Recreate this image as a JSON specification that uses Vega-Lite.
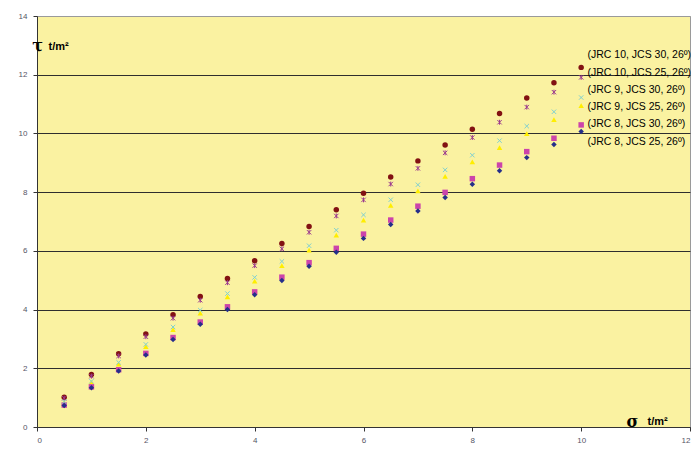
{
  "$schema": "https://vega.github.io/schema/vega-lite/v6.json",
  "width": 653,
  "height": 411,
  "autosize": {"type": "none"},
  "padding": {"left": 37, "top": 16, "right": 6, "bottom": 30},
  "background": "white",
  "config": {
    "view": {"fill": "#FAF2A1", "stroke": "#9a9a9a", "strokeWidth": 1},
    "point": {"size": 30}
  },
  "data": {
    "values": [
      {"series": "(JRC 10, JCS 30, 26º)", "sigma": 0.5, "tau": 1.016},
      {"series": "(JRC 10, JCS 30, 26º)", "sigma": 1.0, "tau": 1.788},
      {"series": "(JRC 10, JCS 30, 26º)", "sigma": 1.5, "tau": 2.497},
      {"series": "(JRC 10, JCS 30, 26º)", "sigma": 2.0, "tau": 3.172},
      {"series": "(JRC 10, JCS 30, 26º)", "sigma": 2.5, "tau": 3.820},
      {"series": "(JRC 10, JCS 30, 26º)", "sigma": 3.0, "tau": 4.448},
      {"series": "(JRC 10, JCS 30, 26º)", "sigma": 3.5, "tau": 5.061},
      {"series": "(JRC 10, JCS 30, 26º)", "sigma": 4.0, "tau": 5.661},
      {"series": "(JRC 10, JCS 30, 26º)", "sigma": 4.5, "tau": 6.249},
      {"series": "(JRC 10, JCS 30, 26º)", "sigma": 5.0, "tau": 6.828},
      {"series": "(JRC 10, JCS 30, 26º)", "sigma": 5.5, "tau": 7.399},
      {"series": "(JRC 10, JCS 30, 26º)", "sigma": 6.0, "tau": 7.959},
      {"series": "(JRC 10, JCS 30, 26º)", "sigma": 6.5, "tau": 8.516},
      {"series": "(JRC 10, JCS 30, 26º)", "sigma": 7.0, "tau": 9.065},
      {"series": "(JRC 10, JCS 30, 26º)", "sigma": 7.5, "tau": 9.607},
      {"series": "(JRC 10, JCS 30, 26º)", "sigma": 8.0, "tau": 10.146},
      {"series": "(JRC 10, JCS 30, 26º)", "sigma": 8.5, "tau": 10.679},
      {"series": "(JRC 10, JCS 30, 26º)", "sigma": 9.0, "tau": 11.207},
      {"series": "(JRC 10, JCS 30, 26º)", "sigma": 9.5, "tau": 11.729},
      {"series": "(JRC 10, JCS 30, 26º)", "sigma": 10.0, "tau": 12.250},
      {"series": "(JRC 10, JCS 25, 26º)", "sigma": 0.5, "tau": 0.981},
      {"series": "(JRC 10, JCS 25, 26º)", "sigma": 1.0, "tau": 1.731},
      {"series": "(JRC 10, JCS 25, 26º)", "sigma": 1.5, "tau": 2.421},
      {"series": "(JRC 10, JCS 25, 26º)", "sigma": 2.0, "tau": 3.076},
      {"series": "(JRC 10, JCS 25, 26º)", "sigma": 2.5, "tau": 3.706},
      {"series": "(JRC 10, JCS 25, 26º)", "sigma": 3.0, "tau": 4.318},
      {"series": "(JRC 10, JCS 25, 26º)", "sigma": 3.5, "tau": 4.915},
      {"series": "(JRC 10, JCS 25, 26º)", "sigma": 4.0, "tau": 5.497},
      {"series": "(JRC 10, JCS 25, 26º)", "sigma": 4.5, "tau": 6.071},
      {"series": "(JRC 10, JCS 25, 26º)", "sigma": 5.0, "tau": 6.633},
      {"series": "(JRC 10, JCS 25, 26º)", "sigma": 5.5, "tau": 7.189},
      {"series": "(JRC 10, JCS 25, 26º)", "sigma": 6.0, "tau": 7.736},
      {"series": "(JRC 10, JCS 25, 26º)", "sigma": 6.5, "tau": 8.276},
      {"series": "(JRC 10, JCS 25, 26º)", "sigma": 7.0, "tau": 8.811},
      {"series": "(JRC 10, JCS 25, 26º)", "sigma": 7.5, "tau": 9.339},
      {"series": "(JRC 10, JCS 25, 26º)", "sigma": 8.0, "tau": 9.861},
      {"series": "(JRC 10, JCS 25, 26º)", "sigma": 8.5, "tau": 10.381},
      {"series": "(JRC 10, JCS 25, 26º)", "sigma": 9.0, "tau": 10.896},
      {"series": "(JRC 10, JCS 25, 26º)", "sigma": 9.5, "tau": 11.405},
      {"series": "(JRC 10, JCS 25, 26º)", "sigma": 10.0, "tau": 11.909},
      {"series": "(JRC 9, JCS 30, 26º)", "sigma": 0.5, "tau": 0.866},
      {"series": "(JRC 9, JCS 30, 26º)", "sigma": 1.0, "tau": 1.558},
      {"series": "(JRC 9, JCS 30, 26º)", "sigma": 1.5, "tau": 2.200},
      {"series": "(JRC 9, JCS 30, 26º)", "sigma": 2.0, "tau": 2.813},
      {"series": "(JRC 9, JCS 30, 26º)", "sigma": 2.5, "tau": 3.406},
      {"series": "(JRC 9, JCS 30, 26º)", "sigma": 3.0, "tau": 3.981},
      {"series": "(JRC 9, JCS 30, 26º)", "sigma": 3.5, "tau": 4.545},
      {"series": "(JRC 9, JCS 30, 26º)", "sigma": 4.0, "tau": 5.097},
      {"series": "(JRC 9, JCS 30, 26º)", "sigma": 4.5, "tau": 5.641},
      {"series": "(JRC 9, JCS 30, 26º)", "sigma": 5.0, "tau": 6.175},
      {"series": "(JRC 9, JCS 30, 26º)", "sigma": 5.5, "tau": 6.704},
      {"series": "(JRC 9, JCS 30, 26º)", "sigma": 6.0, "tau": 7.226},
      {"series": "(JRC 9, JCS 30, 26º)", "sigma": 6.5, "tau": 7.741},
      {"series": "(JRC 9, JCS 30, 26º)", "sigma": 7.0, "tau": 8.252},
      {"series": "(JRC 9, JCS 30, 26º)", "sigma": 7.5, "tau": 8.758},
      {"series": "(JRC 9, JCS 30, 26º)", "sigma": 8.0, "tau": 9.258},
      {"series": "(JRC 9, JCS 30, 26º)", "sigma": 8.5, "tau": 9.754},
      {"series": "(JRC 9, JCS 30, 26º)", "sigma": 9.0, "tau": 10.248},
      {"series": "(JRC 9, JCS 30, 26º)", "sigma": 9.5, "tau": 10.738},
      {"series": "(JRC 9, JCS 30, 26º)", "sigma": 10.0, "tau": 11.223},
      {"series": "(JRC 9, JCS 25, 26º)", "sigma": 0.5, "tau": 0.842},
      {"series": "(JRC 9, JCS 25, 26º)", "sigma": 1.0, "tau": 1.516},
      {"series": "(JRC 9, JCS 25, 26º)", "sigma": 1.5, "tau": 2.142},
      {"series": "(JRC 9, JCS 25, 26º)", "sigma": 2.0, "tau": 2.740},
      {"series": "(JRC 9, JCS 25, 26º)", "sigma": 2.5, "tau": 3.318},
      {"series": "(JRC 9, JCS 25, 26º)", "sigma": 3.0, "tau": 3.880},
      {"series": "(JRC 9, JCS 25, 26º)", "sigma": 3.5, "tau": 4.430},
      {"series": "(JRC 9, JCS 25, 26º)", "sigma": 4.0, "tau": 4.969},
      {"series": "(JRC 9, JCS 25, 26º)", "sigma": 4.5, "tau": 5.499},
      {"series": "(JRC 9, JCS 25, 26º)", "sigma": 5.0, "tau": 6.021},
      {"series": "(JRC 9, JCS 25, 26º)", "sigma": 5.5, "tau": 6.536},
      {"series": "(JRC 9, JCS 25, 26º)", "sigma": 6.0, "tau": 7.046},
      {"series": "(JRC 9, JCS 25, 26º)", "sigma": 6.5, "tau": 7.549},
      {"series": "(JRC 9, JCS 25, 26º)", "sigma": 7.0, "tau": 8.046},
      {"series": "(JRC 9, JCS 25, 26º)", "sigma": 7.5, "tau": 8.540},
      {"series": "(JRC 9, JCS 25, 26º)", "sigma": 8.0, "tau": 9.029},
      {"series": "(JRC 9, JCS 25, 26º)", "sigma": 8.5, "tau": 9.513},
      {"series": "(JRC 9, JCS 25, 26º)", "sigma": 9.0, "tau": 9.993},
      {"series": "(JRC 9, JCS 25, 26º)", "sigma": 9.5, "tau": 10.472},
      {"series": "(JRC 9, JCS 25, 26º)", "sigma": 10.0, "tau": 10.946},
      {"series": "(JRC 8, JCS 30, 26º)", "sigma": 0.5, "tau": 0.748},
      {"series": "(JRC 8, JCS 30, 26º)", "sigma": 1.0, "tau": 1.367},
      {"series": "(JRC 8, JCS 30, 26º)", "sigma": 1.5, "tau": 1.949},
      {"series": "(JRC 8, JCS 30, 26º)", "sigma": 2.0, "tau": 2.507},
      {"series": "(JRC 8, JCS 30, 26º)", "sigma": 2.5, "tau": 3.048},
      {"series": "(JRC 8, JCS 30, 26º)", "sigma": 3.0, "tau": 3.575},
      {"series": "(JRC 8, JCS 30, 26º)", "sigma": 3.5, "tau": 4.094},
      {"series": "(JRC 8, JCS 30, 26º)", "sigma": 4.0, "tau": 4.602},
      {"series": "(JRC 8, JCS 30, 26º)", "sigma": 4.5, "tau": 5.104},
      {"series": "(JRC 8, JCS 30, 26º)", "sigma": 5.0, "tau": 5.598},
      {"series": "(JRC 8, JCS 30, 26º)", "sigma": 5.5, "tau": 6.086},
      {"series": "(JRC 8, JCS 30, 26º)", "sigma": 6.0, "tau": 6.570},
      {"series": "(JRC 8, JCS 30, 26º)", "sigma": 6.5, "tau": 7.049},
      {"series": "(JRC 8, JCS 30, 26º)", "sigma": 7.0, "tau": 7.522},
      {"series": "(JRC 8, JCS 30, 26º)", "sigma": 7.5, "tau": 7.992},
      {"series": "(JRC 8, JCS 30, 26º)", "sigma": 8.0, "tau": 8.459},
      {"series": "(JRC 8, JCS 30, 26º)", "sigma": 8.5, "tau": 8.922},
      {"series": "(JRC 8, JCS 30, 26º)", "sigma": 9.0, "tau": 9.380},
      {"series": "(JRC 8, JCS 30, 26º)", "sigma": 9.5, "tau": 9.836},
      {"series": "(JRC 8, JCS 30, 26º)", "sigma": 10.0, "tau": 10.290},
      {"series": "(JRC 8, JCS 25, 26º)", "sigma": 0.5, "tau": 0.730},
      {"series": "(JRC 8, JCS 25, 26º)", "sigma": 1.0, "tau": 1.336},
      {"series": "(JRC 8, JCS 25, 26º)", "sigma": 1.5, "tau": 1.905},
      {"series": "(JRC 8, JCS 25, 26º)", "sigma": 2.0, "tau": 2.450},
      {"series": "(JRC 8, JCS 25, 26º)", "sigma": 2.5, "tau": 2.979},
      {"series": "(JRC 8, JCS 25, 26º)", "sigma": 3.0, "tau": 3.497},
      {"series": "(JRC 8, JCS 25, 26º)", "sigma": 3.5, "tau": 4.003},
      {"series": "(JRC 8, JCS 25, 26º)", "sigma": 4.0, "tau": 4.501},
      {"series": "(JRC 8, JCS 25, 26º)", "sigma": 4.5, "tau": 4.990},
      {"series": "(JRC 8, JCS 25, 26º)", "sigma": 5.0, "tau": 5.475},
      {"series": "(JRC 8, JCS 25, 26º)", "sigma": 5.5, "tau": 5.953},
      {"series": "(JRC 8, JCS 25, 26º)", "sigma": 6.0, "tau": 6.425},
      {"series": "(JRC 8, JCS 25, 26º)", "sigma": 6.5, "tau": 6.894},
      {"series": "(JRC 8, JCS 25, 26º)", "sigma": 7.0, "tau": 7.358},
      {"series": "(JRC 8, JCS 25, 26º)", "sigma": 7.5, "tau": 7.817},
      {"series": "(JRC 8, JCS 25, 26º)", "sigma": 8.0, "tau": 8.272},
      {"series": "(JRC 8, JCS 25, 26º)", "sigma": 8.5, "tau": 8.726},
      {"series": "(JRC 8, JCS 25, 26º)", "sigma": 9.0, "tau": 9.176},
      {"series": "(JRC 8, JCS 25, 26º)", "sigma": 9.5, "tau": 9.622},
      {"series": "(JRC 8, JCS 25, 26º)", "sigma": 10.0, "tau": 10.065}
    ]
  },
  "resolve": {
    "scale": {"x": "independent", "y": "independent"},
    "axis": {"x": "independent", "y": "independent"}
  },
  "layer": [
    {
      "transform": [{"filter": {"field": "series", "oneOf": ["(JRC 10, JCS 30, 26º)", "(JRC 9, JCS 25, 26º)", "(JRC 8, JCS 30, 26º)", "(JRC 8, JCS 25, 26º)"]}}],
      "mark": {"type": "point", "filled": true, "opacity": 1},
      "encoding": {
        "x": {
          "field": "sigma", "type": "quantitative",
          "scale": {"domain": [0, 12], "nice": false, "zero": true},
          "axis": {
            "orient": "bottom", "values": [0, 2, 4, 6, 8, 10, 12], "grid": false,
            "domainColor": "#333333", "tickColor": "#333333", "tickSize": 4,
            "labelFont": "Liberation Sans", "labelFontSize": 8, "labelColor": "#555566", "labelPadding": 5,
            "title": "σ", "titleFont": "DejaVu Serif", "titleFontSize": 16, "titleFontWeight": "bold", "titleColor": "#000000",
            "titleAngle": 0, "titleX": 595, "titleY": -6, "titleAlign": "center", "titleBaseline": "middle"
          }
        },
        "y": {
          "field": "tau", "type": "quantitative",
          "scale": {"domain": [0, 14], "nice": false, "zero": true},
          "axis": {
            "orient": "left", "values": [0, 2, 4, 6, 8, 10, 12, 14], "grid": true,
            "gridColor": {"condition": {"test": "datum.value >= 14", "value": "#9a9a9a"}, "value": "#2e2e2e"},
            "gridWidth": 1,
            "domainColor": "#333333", "tickColor": "#333333", "tickSize": 4,
            "labelFont": "Liberation Sans", "labelFontSize": 8, "labelColor": "#555566", "labelPadding": 6,
            "title": "τ", "titleFont": "DejaVu Serif", "titleFontSize": 16, "titleFontWeight": "bold", "titleColor": "#000000",
            "titleAngle": 0, "titleX": 0, "titleY": 29, "titleAlign": "center", "titleBaseline": "middle"
          }
        },
        "color": {
          "field": "series", "type": "nominal",
          "scale": {
            "domain": ["(JRC 10, JCS 30, 26º)", "(JRC 10, JCS 25, 26º)", "(JRC 9, JCS 30, 26º)", "(JRC 9, JCS 25, 26º)", "(JRC 8, JCS 30, 26º)", "(JRC 8, JCS 25, 26º)"],
            "range": ["#821212", "#9B3A8E", "#7FD0D0", "#FFEE00", "#CC44AA", "#252F8A"]
          },
          "legend": {
            "orient": "none", "legendX": 540, "legendY": 34, "title": null,
            "symbolOpacity": 0, "symbolSize": 1, "symbolStrokeWidth": 0,
            "labelFont": "Liberation Sans", "labelFontSize": 10.5, "labelColor": "#000000",
            "labelOffset": 0, "rowPadding": 6.3, "padding": 0, "labelLimit": 200
          }
        },
        "shape": {
          "field": "series", "type": "nominal",
          "scale": {
            "domain": ["(JRC 10, JCS 30, 26º)", "(JRC 10, JCS 25, 26º)", "(JRC 9, JCS 30, 26º)", "(JRC 9, JCS 25, 26º)", "(JRC 8, JCS 30, 26º)", "(JRC 8, JCS 25, 26º)"],
            "range": ["circle", "M-0.8,-0.8L0.8,0.8M0.8,-0.8L-0.8,0.8M0,-0.9L0,0.9", "M-0.8,-0.8L0.8,0.8M0.8,-0.8L-0.8,0.8", "triangle-up", "square", "diamond"]
          },
          "legend": null
        }
      }
    },
    {
      "transform": [{"filter": {"field": "series", "oneOf": ["(JRC 10, JCS 25, 26º)", "(JRC 9, JCS 30, 26º)"]}}],
      "mark": {"type": "point", "filled": false, "opacity": 1, "strokeWidth": 1},
      "encoding": {
        "x": {
          "field": "sigma", "type": "quantitative",
          "scale": {"domain": [0, 12], "nice": false, "zero": true},
          "axis": {
            "orient": "top", "labels": false, "ticks": false, "domain": false, "grid": false,
            "title": "t/m²", "titleFont": "Liberation Sans", "titleFontSize": 11, "titleFontWeight": "bold", "titleColor": "#000000",
            "titleAngle": 0, "titleX": 610, "titleY": 405, "titleAlign": "left", "titleBaseline": "middle"
          }
        },
        "y": {
          "field": "tau", "type": "quantitative",
          "scale": {"domain": [0, 14], "nice": false, "zero": true},
          "axis": {
            "orient": "right", "labels": false, "ticks": false, "domain": false, "grid": false,
            "title": "t/m²", "titleFont": "Liberation Sans", "titleFontSize": 11, "titleFontWeight": "bold", "titleColor": "#000000",
            "titleAngle": 0, "titleX": -642, "titleY": 30, "titleAlign": "left", "titleBaseline": "middle"
          }
        },
        "color": {
          "field": "series", "type": "nominal",
          "scale": {
            "domain": ["(JRC 10, JCS 30, 26º)", "(JRC 10, JCS 25, 26º)", "(JRC 9, JCS 30, 26º)", "(JRC 9, JCS 25, 26º)", "(JRC 8, JCS 30, 26º)", "(JRC 8, JCS 25, 26º)"],
            "range": ["#821212", "#9B3A8E", "#7FD0D0", "#FFEE00", "#CC44AA", "#252F8A"]
          },
          "legend": {
            "orient": "none", "legendX": 540, "legendY": 34, "title": null,
            "symbolOpacity": 0, "symbolSize": 1, "symbolStrokeWidth": 0,
            "labelFont": "Liberation Sans", "labelFontSize": 10.5, "labelColor": "#000000",
            "labelOffset": 0, "rowPadding": 6.3, "padding": 0, "labelLimit": 200
          }
        },
        "shape": {
          "field": "series", "type": "nominal",
          "scale": {
            "domain": ["(JRC 10, JCS 30, 26º)", "(JRC 10, JCS 25, 26º)", "(JRC 9, JCS 30, 26º)", "(JRC 9, JCS 25, 26º)", "(JRC 8, JCS 30, 26º)", "(JRC 8, JCS 25, 26º)"],
            "range": ["circle", "M-0.8,-0.8L0.8,0.8M0.8,-0.8L-0.8,0.8M0,-0.9L0,0.9", "M-0.8,-0.8L0.8,0.8M0.8,-0.8L-0.8,0.8", "triangle-up", "square", "diamond"]
          },
          "legend": null
        }
      }
    }
  ]
}
